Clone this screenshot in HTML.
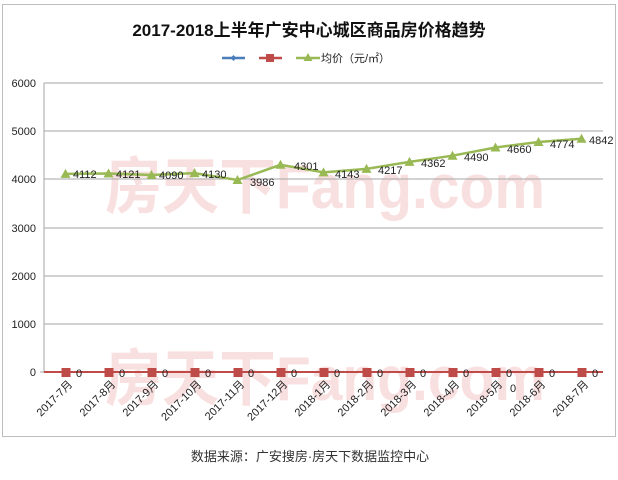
<!DOCTYPE html>
<html><head><meta charset="utf-8"><style>body{margin:0;background:#fff}svg{display:block}</style></head><body>
<svg width="618" height="480" xmlns="http://www.w3.org/2000/svg" font-family="Liberation Sans, Noto Sans CJK SC, sans-serif">
<rect x="0" y="0" width="618" height="480" fill="#fff"/>
<rect x="2.5" y="4.5" width="613" height="432" fill="#fff" stroke="#bdbdbd"/>
<g font-weight="bold" fill="#f9e0e0" font-family="Liberation Sans, Noto Sans CJK SC, sans-serif">
<text x="105" y="208" font-size="62" textLength="440" lengthAdjust="spacingAndGlyphs">房天下Fang.com</text>
<text x="105" y="400" font-size="62" textLength="440" lengthAdjust="spacingAndGlyphs">房天下Fang.com</text>
</g>
<text x="309" y="36" text-anchor="middle" font-size="17" font-weight="bold" fill="#111">2017-2018上半年广安中心城区商品房价格趋势</text>
<g>
<line x1="222" y1="58" x2="245" y2="58" stroke="#4a7ebb" stroke-width="2.5"/><path d="M233.5 55 l3 3 -3 3 -3 -3z" fill="#4a7ebb"/>
<line x1="259" y1="58" x2="282" y2="58" stroke="#be4b48" stroke-width="2.5"/><rect x="266" y="54" width="8" height="8" fill="#be4b48"/>
<line x1="296" y1="58" x2="320" y2="58" stroke="#98b954" stroke-width="2.5"/><path d="M308 53 l4.5 8 h-9z" fill="#98b954"/>
<text x="321" y="62" font-size="11" fill="#222">均价（元/㎡）</text>
</g>
<g stroke="#a6a6a6" stroke-width="1">
<line x1="44" y1="83" x2="603" y2="83"/><line x1="44" y1="131" x2="603" y2="131"/><line x1="44" y1="179" x2="603" y2="179"/><line x1="44" y1="228" x2="603" y2="228"/><line x1="44" y1="276" x2="603" y2="276"/><line x1="44" y1="324" x2="603" y2="324"/><line x1="40" y1="372" x2="603" y2="372"/>
<line x1="44" y1="83" x2="44" y2="372"/>
</g>
<g font-size="11" fill="#222" text-anchor="end">
<text x="36" y="87">6000</text><text x="36" y="135">5000</text><text x="36" y="183">4000</text><text x="36" y="232">3000</text><text x="36" y="280">2000</text><text x="36" y="328">1000</text><text x="36" y="376">0</text>
</g>
<polyline fill="none" stroke="#98b954" stroke-width="2.5" points="65.5,173.9 108.5,173.5 151.5,175 194.5,173.1 237.5,180 280.5,164.8 323.5,172.4 366.5,168.9 409.5,161.9 452.5,155.7 495.5,147.5 538.5,142 581.5,138.8"/>
<g fill="#98b954">
<path d="M65.5 168.9 l5 9 h-10z"/><path d="M108.5 168.5 l5 9 h-10z"/><path d="M151.5 170 l5 9 h-10z"/><path d="M194.5 168.1 l5 9 h-10z"/><path d="M237.5 175 l5 9 h-10z"/><path d="M280.5 159.8 l5 9 h-10z"/><path d="M323.5 167.4 l5 9 h-10z"/><path d="M366.5 163.9 l5 9 h-10z"/><path d="M409.5 156.9 l5 9 h-10z"/><path d="M452.5 150.7 l5 9 h-10z"/><path d="M495.5 142.5 l5 9 h-10z"/><path d="M538.5 137 l5 9 h-10z"/><path d="M581.5 133.8 l5 9 h-10z"/>
</g>
<g font-size="11" fill="#222">
<text x="73" y="178">4112</text><text x="116" y="178">4121</text><text x="159" y="179">4090</text><text x="202" y="178">4130</text><text x="250" y="186">3986</text><text x="294" y="170">4301</text><text x="335" y="178">4143</text><text x="378" y="174">4217</text><text x="421" y="167">4362</text><text x="464" y="161">4490</text><text x="507" y="153">4660</text><text x="550" y="148">4774</text><text x="589" y="144">4842</text>
</g>
<line x1="44" y1="372" x2="603" y2="372" stroke="#be4b48" stroke-width="2"/>
<g fill="#be4b48">
<rect x="61.5" y="368" width="9" height="9"/><rect x="104.5" y="368" width="9" height="9"/><rect x="147.5" y="368" width="9" height="9"/><rect x="190.5" y="368" width="9" height="9"/><rect x="233.5" y="368" width="9" height="9"/><rect x="276.5" y="368" width="9" height="9"/><rect x="319.5" y="368" width="9" height="9"/><rect x="362.5" y="368" width="9" height="9"/><rect x="405.5" y="368" width="9" height="9"/><rect x="448.5" y="368" width="9" height="9"/><rect x="491.5" y="368" width="9" height="9"/><rect x="534.5" y="368" width="9" height="9"/><rect x="577.5" y="368" width="9" height="9"/>
</g>
<g font-size="11" fill="#222">
<text x="76" y="377">0</text><text x="119" y="377">0</text><text x="162" y="377">0</text><text x="205" y="377">0</text><text x="248" y="377">0</text><text x="291" y="377">0</text><text x="334" y="377">0</text><text x="377" y="377">0</text><text x="420" y="377">0</text><text x="463" y="377">0</text><text x="506" y="377">0</text><text x="549" y="377">0</text><text x="592" y="377">0</text><text x="510" y="392">0</text>
</g>
<g font-size="11" fill="#222" text-anchor="end">
<text transform="translate(73,385) rotate(-45)">2017-7月</text>
<text transform="translate(116,385) rotate(-45)">2017-8月</text>
<text transform="translate(159,385) rotate(-45)">2017-9月</text>
<text transform="translate(202,385) rotate(-45)">2017-10月</text>
<text transform="translate(245,385) rotate(-45)">2017-11月</text>
<text transform="translate(288,385) rotate(-45)">2017-12月</text>
<text transform="translate(331,385) rotate(-45)">2018-1月</text>
<text transform="translate(374,385) rotate(-45)">2018-2月</text>
<text transform="translate(417,385) rotate(-45)">2018-3月</text>
<text transform="translate(460,385) rotate(-45)">2018-4月</text>
<text transform="translate(503,385) rotate(-45)">2018-5月</text>
<text transform="translate(546,385) rotate(-45)">2018-6月</text>
<text transform="translate(589,385) rotate(-45)">2018-7月</text>
</g>
<text x="310" y="461" text-anchor="middle" font-size="13" fill="#333">数据来源：广安搜房·房天下数据监控中心</text>
</svg>
</body></html>
